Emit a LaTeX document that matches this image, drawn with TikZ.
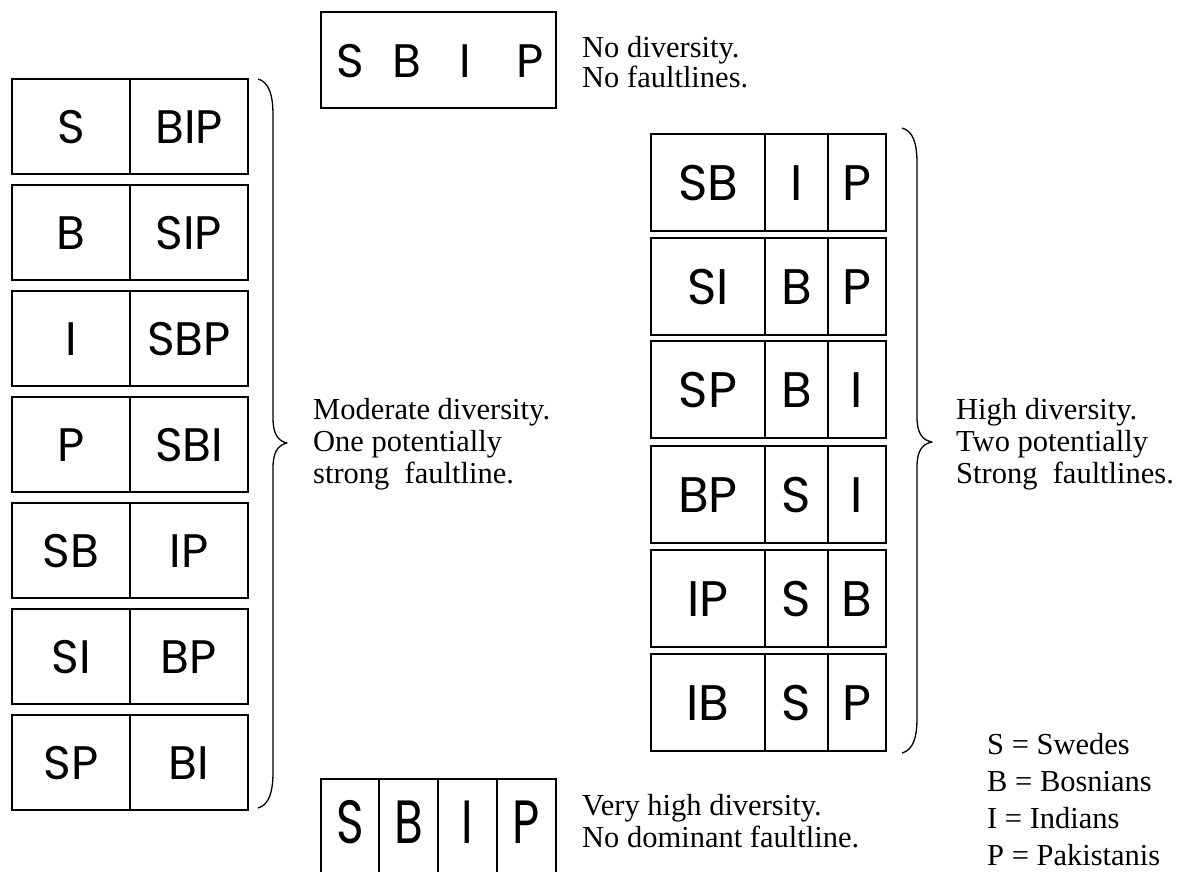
\documentclass[tikz,border=0pt]{standalone}
\usepackage{fontspec}
\usepackage{graphicx}
\setmainfont{Liberation Serif}
\newfontfamily\boxfont{Poppins}
\tikzset{
  cell/.style={draw, line width=1.3pt, inner sep=0pt, minimum height=95pt,
    font=\boxfont\fontsize{47}{47}\selectfont, text height=33pt, text depth=0pt},
  rcell/.style={cell, minimum height=97pt, font=\boxfont\fontsize{50}{50}\selectfont, text height=35pt},
  bcell/.style={cell, minimum height=100pt, text height=44pt, text depth=16pt},
  letter/.style={inner sep=0pt, font=\boxfont\fontsize{47}{47}\selectfont, text height=33pt, text depth=0pt},
  lbl/.style={anchor=base west, inner sep=0pt, font=\fontsize{30.5}{32}\selectfont},
  bracepath/.style={line width=1.3pt, line join=round}
}
\begin{document}
\begin{tikzpicture}[x=1pt,y=-1pt]
\useasboundingbox (0,0) rectangle (1183,871);
\clip (0,0) rectangle (1183,871);
\fill[white] (0,0) rectangle (1183,871);

% top box: no diversity
\node[draw, line width=1.3pt, minimum width=235pt, minimum height=96pt, inner sep=0pt] (top) at (438.5,60) {};
\node[letter] (tS) at (350,61) {S};
\node[letter] (tB) at (407,61) {B};
\node[letter] (tI) at (465,61) {I};
\node[letter] (tP) at (530,61) {P};
\node[lbl] (tt1) at (582,57) {No diversity.};
\node[lbl] (tt2) at (582,87) {No faultlines.};

% left column: two subgroups
\foreach \a/\b [count=\i] in {S/BIP, B/SIP, I/SBP, P/SBI, SB/IP, SI/BP, SP/BI}{
  \pgfmathsetmacro{\yc}{79+106*(\i-1)+47.5}
  \node[cell, minimum width=118pt] (L\i a) at (71,\yc) {\a};
  \node[cell, minimum width=118pt] (L\i b) at (189,\yc) {\b};
}
\draw[bracepath] (258,79) .. controls (269,82) and (273,95) .. (273,115)
  -- (273,418) .. controls (273,434) and (278,441) .. (287,443)
  .. controls (278,445) and (273,452) .. (273,468)
  -- (273,772) .. controls (273,792) and (269,805) .. (258,808);
\node[lbl] (m1) at (313,419) {Moderate diversity.};
\node[lbl] (m2) at (313,451) {One potentially};
\node[lbl] (m3) at (313,483) {strong\ \ faultline.};

% right column: three subgroups
\foreach \a/\b/\c/\yc [count=\i] in {SB/I/P/182.5, SI/B/P/286.5, SP/B/I/389.5, BP/S/I/494.5, IP/S/B/598.5, IB/S/P/702.5}{
  \node[rcell, minimum width=114pt] (R\i a) at (708,\yc) {\a};
  \node[rcell, minimum width=63pt] (R\i b) at (796.5,\yc) {\b};
  \node[rcell, minimum width=58pt] (R\i c) at (857,\yc) {\c};
}
\draw[bracepath] (902,128) .. controls (913,131) and (917,143) .. (917,163)
  -- (917,417) .. controls (917,433) and (922,440) .. (932,442)
  .. controls (922,444) and (917,451) .. (917,467)
  -- (917,718) .. controls (917,738) and (913,750) .. (902,753);
\node[lbl] (h1) at (956,419) {High diversity.};
\node[lbl] (h2) at (956,451) {Two potentially};
\node[lbl] (h3) at (956,483) {Strong\ \ faultlines.};

% bottom box: four subgroups
\node[bcell, minimum width=58pt] (b1) at (350,829) {\scalebox{1}[1.3]{S}};
\node[bcell, minimum width=59pt] (b2) at (408.5,829) {\scalebox{1}[1.3]{B}};
\node[bcell, minimum width=59pt] (b3) at (467.5,829) {\scalebox{1}[1.3]{I}};
\node[bcell, minimum width=59pt] (b4) at (526.5,829) {\scalebox{1}[1.3]{P}};
\node[lbl] (v1) at (582,815) {Very high diversity.};
\node[lbl] (v2) at (582,847) {No dominant faultline.};

% legend
\node[lbl] (k1) at (987,754) {S = Swedes};
\node[lbl] (k2) at (987,791) {B = Bosnians};
\node[lbl] (k3) at (987,828) {I = Indians};
\node[lbl] (k4) at (987,865) {P = Pakistanis};
\end{tikzpicture}
\end{document}
